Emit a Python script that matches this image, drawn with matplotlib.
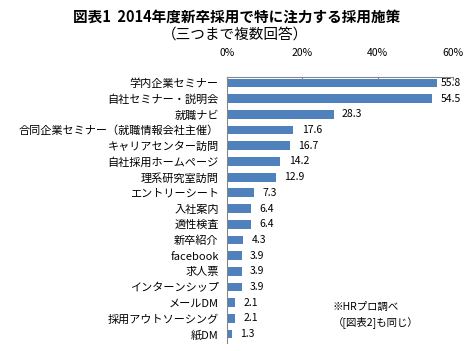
import matplotlib
matplotlib.use('Agg')
import matplotlib.pyplot as plt

plt.rcParams['font.family'] = ['Noto Sans CJK JP', 'DejaVu Sans']

# data
categories = ['学内企業セミナー', '自社セミナー・説明会', '就職ナビ', '合同企業セミナー（就職情報会社主催）',
              'キャリアセンター訪問', '自社採用ホームページ', '理系研究室訪問', 'エントリーシート',
              '入社案内', '適性検査', '新卒紹介', 'facebook', '求人票', 'インターンシップ',
              'メールDM', '採用アウトソーシング', '紙DM']
values = [55.8, 54.5, 28.3, 17.6, 16.7, 14.2, 12.9, 7.3, 6.4, 6.4, 4.3, 3.9, 3.9, 3.9, 2.1, 2.1, 1.3]
tick_values = [0, 20, 40, 60]
tick_labels = ['0%', '20%', '40%', '60%']

bar_color = '#4f81bd'
spine_color = '#868686'

fig = plt.figure(figsize=(4.75, 3.51), dpi=100)
ax = fig.add_axes([227/475, 1 - 343/351, 226/475, 266/351])

pos = list(range(len(categories)))
ax.barh(pos, values, height=0.56, color=bar_color)
for p, v in zip(pos, values):
    # labels near the right edge get pushed in, like Excel does
    ax.text(min(v + 2.2, 56.8), p, f'{v:.1f}', va='center', ha='left', fontsize=7.5)

ax.set_xlim(0, 60)
ax.set_ylim(len(categories) - 0.43, -0.38)
ax.set_yticks(pos)
ax.set_yticklabels(categories, fontsize=8)
ax.tick_params(axis='y', length=0, pad=6)

ax.xaxis.tick_top()
ax.set_xticks(tick_values)
ax.set_xticklabels(tick_labels, fontsize=7.5)
ax.tick_params(axis='x', direction='in', length=2.5, color=spine_color, pad=14)

for s in ['right', 'bottom']:
    ax.spines[s].set_visible(False)
for s in ['top', 'left']:
    ax.spines[s].set_color(spine_color)
    ax.spines[s].set_linewidth(0.8)

fig.text(237/475, 1 - 17/351, '図表1  2014年度新卒採用で特に注力する採用施策',
         ha='center', va='center', fontsize=10.5, fontweight='bold')
fig.text(235/475, 1 - 35/351, '（三つまで複数回答）', ha='center', va='center', fontsize=10.5)

fig.text(333/475, 1 - 315/351, '※HRプロ調べ\n（[図表2]も同じ）', ha='left', va='center',
         fontsize=7.5, linespacing=1.5)

fig.savefig('out.png', dpi=100)
